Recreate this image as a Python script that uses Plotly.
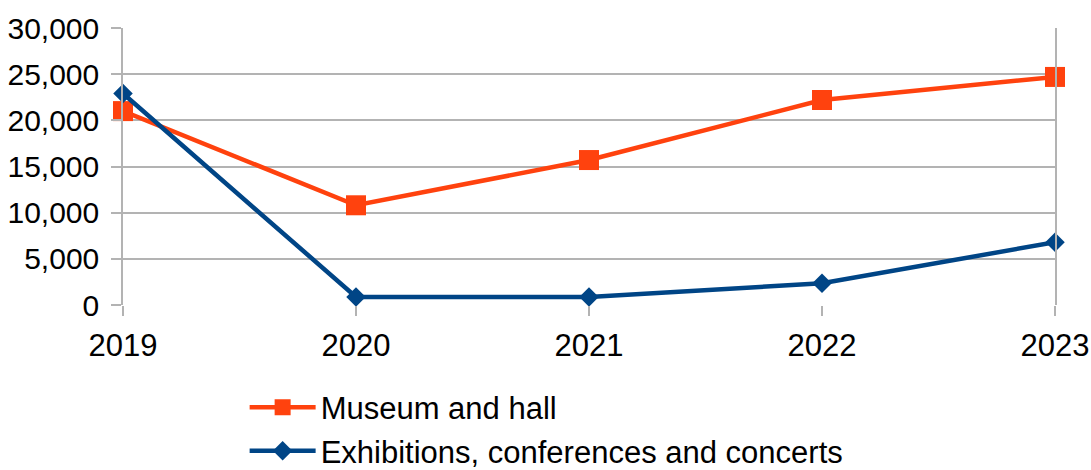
import plotly.graph_objects as go

# values
years = [2019, 2020, 2021, 2022, 2023]
museum_hall = [21000, 10800, 15700, 22200, 24700]
exhibitions = [22900, 870, 870, 2350, 6800]

y_ticks = [0, 5000, 10000, 15000, 20000, 25000, 30000]

FONT = "Liberation Sans, Arial, sans-serif"

fig = go.Figure()

fig.add_trace(go.Scatter(
    x=years, y=museum_hall, name="Museum and hall",
    mode="lines+markers", cliponaxis=False,
    line=dict(color="#ff420e", width=4.5),
    marker=dict(symbol="square", size=20, color="#ff420e"),
))

fig.add_trace(go.Scatter(
    x=years, y=exhibitions, name="Exhibitions, conferences and concerts",
    mode="lines+markers", cliponaxis=False,
    line=dict(color="#004586", width=4.5),
    marker=dict(symbol="diamond", size=15, color="#004586"),
))

fig.update_layout(
    width=1091, height=470,
    margin=dict(l=123, r=36, t=28, b=165),
    paper_bgcolor="white", plot_bgcolor="white",
    font=dict(family=FONT, size=30, color="black"),
    legend=dict(
        orientation="v", xref="paper", yref="container",
        x=0.1305, y=0.19, xanchor="left", yanchor="top",
        font=dict(size=31), itemwidth=66, tracegroupgap=0,
    ),
)

fig.update_xaxes(
    range=[2019, 2023], tickvals=years, ticktext=[str(y) for y in years],
    showgrid=False, showline=False, zeroline=False, automargin=False,
    ticks="outside", ticklen=10, tickcolor="#b3b3b3", tickwidth=1.5,
    ticklabelstandoff=3, tickfont=dict(size=31),
)

fig.update_yaxes(
    range=[0, 30000], tickvals=y_ticks, tickformat=",d",
    showgrid=True, gridcolor="#b3b3b3", gridwidth=1.5,
    showline=True, linecolor="#b3b3b3", linewidth=1.5, mirror=True,
    zeroline=False, automargin=False,
    ticks="outside", ticklen=10, tickcolor="#b3b3b3", tickwidth=1.5,
    ticklabelstandoff=6,
)

# drop the default 8px body margin so the figure fills the window
fig.write_html(
    "out.html",
    config={"displayModeBar": False},
    post_script="document.body.style.margin='0';",
)
